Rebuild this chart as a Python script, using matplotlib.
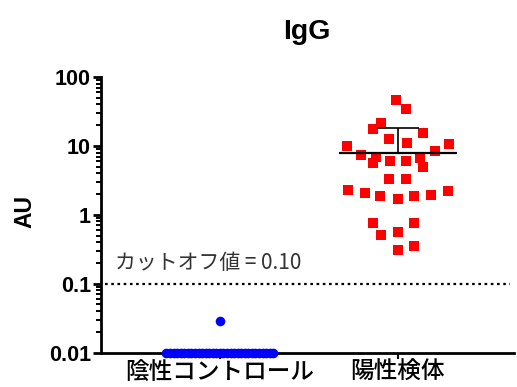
import numpy as np
import matplotlib.pyplot as plt

groups = ["陰性コントロール", "陽性検体"]

# negative controls: one reading above detection, the rest sit on the 0.01 floor
neg_values = [0.0286] + [0.01] * 31
neg_offsets = [0.0] + [-0.30, -0.28, -0.26, -0.24, -0.22, -0.20, -0.18, -0.16,
                       -0.14, -0.12, -0.10, -0.08, -0.06, -0.04, -0.02, 0.0,
                       0.02, 0.04, 0.06, 0.08, 0.10, 0.12, 0.14, 0.16, 0.18,
                       0.20, 0.22, 0.24, 0.26, 0.28, 0.30]

pos_values = [46.2, 33.9, 21.6, 17.4, 15.5, 12.6, 11.2, 10.0, 10.6, 7.35, 6.95,
              8.4, 5.57, 6.02, 6.08, 6.59, 4.88, 3.26, 3.26, 2.28, 2.09, 1.87,
              1.69, 1.87, 1.93, 2.21, 0.75, 0.51, 0.57, 0.77, 0.31, 0.35]
pos_offsets = [-0.01, 0.045, -0.096, -0.142, 0.142, -0.049, 0.049, -0.288, 0.289,
               -0.209, -0.124, 0.208, -0.142, -0.045, 0.045, 0.124, 0.142, -0.049,
               0.045, -0.279, -0.185, -0.101, -0.002, 0.093, 0.185, 0.283, -0.142,
               -0.096, -0.002, 0.093, -0.002, 0.093]

pos_center = 7.94
pos_upper = 17.9
cutoff = 0.10

jp = ['Noto Sans CJK JP', 'DejaVu Sans']

fig = plt.figure(figsize=(5.17, 3.87), dpi=100)
ax = fig.add_axes([0.195, 0.089, 0.799, 0.712])

ax.scatter(np.array(neg_offsets) + 0, neg_values, s=48, marker='o', color='#0000ff',
           linewidths=0, clip_on=False, zorder=3)
ax.scatter(np.array(pos_offsets) + 1, pos_values, s=52, marker='s', color='#ff0000',
           linewidths=0, clip_on=False, zorder=3)

# median line + upper whisker for positives
ax.hlines(pos_center, 1 - 0.33, 1 + 0.33, color='black', lw=1.6, zorder=4)
ax.vlines(1, pos_center, pos_upper, color='black', lw=1.2, zorder=4)
ax.hlines(pos_upper, 1 - 0.12, 1 + 0.12, color='black', lw=1.2, zorder=4)

ax.axhline(cutoff, xmin=0.01, xmax=0.99, color='black', ls=(0, (1.2, 1.6)), lw=1.6)
ax.text(-0.59, 0.2, "カットオフ値 = 0.10", family=jp, fontsize=15,
        ha='left', va='center', color='#333333')

ax.set_yscale('log')
ax.set_ylim(0.01, 100)
ax.set_xlim(-0.669, 1.652)
ax.set_yticks([0.01, 0.1, 1, 10, 100])
ax.set_yticklabels(["0.01", "0.1", "1", "10", "100"], family='Liberation Sans',
                   fontweight='bold', fontsize=15.5)
ax.set_xticks([0, 1])
ax.set_xticklabels(groups, family=jp, fontsize=17, fontweight='medium')

for s in ['top', 'right']:
    ax.spines[s].set_visible(False)
for s in ['left', 'bottom']:
    ax.spines[s].set_linewidth(2.0)
    ax.spines[s].set_zorder(2)

ax.tick_params(axis='y', which='major', direction='out', length=6, width=2, pad=1)
ax.tick_params(axis='y', which='minor', direction='out', length=3.5, width=1.4)
ax.tick_params(axis='x', which='major', direction='out', length=4, width=1.5, pad=2)

fig.text(307 / 517, 1 - 32 / 387, "IgG", family='Liberation Sans', fontweight='bold',
         fontsize=20.5, ha='center', va='center')
fig.text(25 / 517, 1 - 212 / 387, "AU", family='Liberation Sans', fontweight='bold',
         fontsize=16.5, ha='center', va='center', rotation=90)

fig.savefig("out.png", dpi=100)
